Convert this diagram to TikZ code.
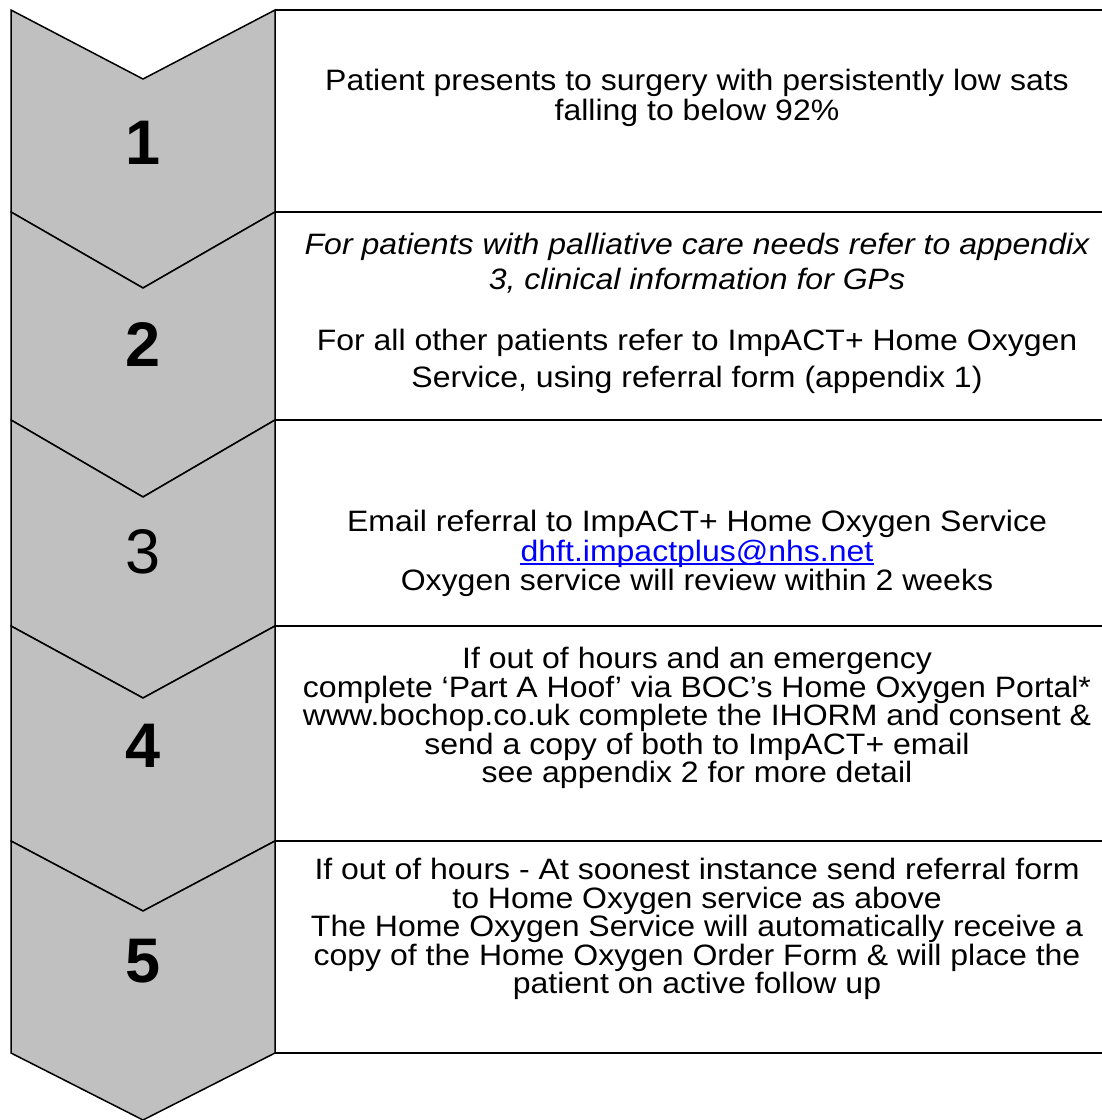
\documentclass[tikz,border=0pt]{standalone}
\usepackage{fontspec}
\setmainfont{Liberation Sans}
\newfontfamily\bodyfont[FakeStretch=1.085]{Liberation Sans}
\definecolor{chev}{HTML}{C0C0C0}
\definecolor{linkblue}{HTML}{0000FF}
\tikzset{
  chevron/.style={fill=chev, draw=black, line width=1.5pt, line join=miter},
  boxline/.style={draw=black, line width=1.8pt},
  num/.style={font=\fontsize{63}{70}\selectfont\bfseries, inner sep=0pt},
  numlight/.style={font=\fontsize{63}{70}\selectfont, inner sep=0pt},
  body/.style={font=\bodyfont\fontsize{29.5}{28.5}\selectfont, align=center, inner sep=0pt},
  oneline/.style={font=\bodyfont\fontsize{29.5}{28.5}\selectfont, inner sep=0pt, anchor=base},
}
\begin{document}
\begin{tikzpicture}[x=1pt,y=-1pt]
\clip (0,0) rectangle (1102,1120);
\fill[white] (0,0) rectangle (1102,1120);
% box lines
\foreach \y in {10,212,420,626,841,1053}{\draw[boxline] (275,\y) -- (1130,\y);}
% chevrons
\draw[chevron] (11,10) -- (143,79) -- (275,10) -- (275,212) -- (143,288) -- (11,212) -- cycle;
\draw[chevron] (11,212) -- (143,288) -- (275,212) -- (275,420) -- (143,497) -- (11,420) -- cycle;
\draw[chevron] (11,420) -- (143,497) -- (275,420) -- (275,626) -- (143,698) -- (11,626) -- cycle;
\draw[chevron] (11,626) -- (143,698) -- (275,626) -- (275,841) -- (143,911) -- (11,841) -- cycle;
\draw[chevron] (11,841) -- (143,911) -- (275,841) -- (275,1053) -- (143,1120) -- (11,1053) -- cycle;
% numbers
\node[num] (n1) at (143,143) {1};
\node[num] (n2) at (143,344) {2};
\node[numlight] (n3) at (143,552) {3};
\node[num] (n4) at (143,746) {4};
\node[num] (n5) at (143,961) {5};
% texts
\node[body, font=\bodyfont\fontsize{29.5}{29.5}\selectfont] (t1) at (697,98) {Patient presents to surgery with persistently low sats\\falling to below 92\%};
\node[body, font=\bodyfont\fontsize{29.5}{35}\selectfont\itshape] (t2a) at (697,263) {For patients with palliative care needs refer to appendix\\3, clinical information for GPs};
\node[body, font=\bodyfont\fontsize{29.5}{37}\selectfont] (t2b) at (697,361) {For all other patients refer to ImpACT+ Home Oxygen\\Service, using referral form (appendix 1)};
\node[oneline] (t3a) at (697,531) {Email referral to ImpACT+ Home Oxygen Service};
\node[oneline, text=linkblue] (t3b) at (697,561) {dhft.impactplus@nhs.net};
\node[oneline] (t3c) at (697,590) {Oxygen service will review within 2 weeks};
\draw[linkblue, line width=1.5pt] ([yshift=-3pt]t3b.base west) -- ([yshift=-3pt]t3b.base east);
\node[body] (t4) at (697,718) {If out of hours and an emergency\\complete ‘Part A Hoof’ via BOC’s Home Oxygen Portal*\\www.bochop.co.uk complete the IHORM and consent \&\\send a copy of both to ImpACT+ email\\see appendix 2 for more detail};
\node[body] (t5) at (697,929) {If out of hours - At soonest instance send referral form\\to Home Oxygen service as above\\The Home Oxygen Service will automatically receive a\\copy of the Home Oxygen Order Form \& will place the\\patient on active follow up};
\end{tikzpicture}
\end{document}
